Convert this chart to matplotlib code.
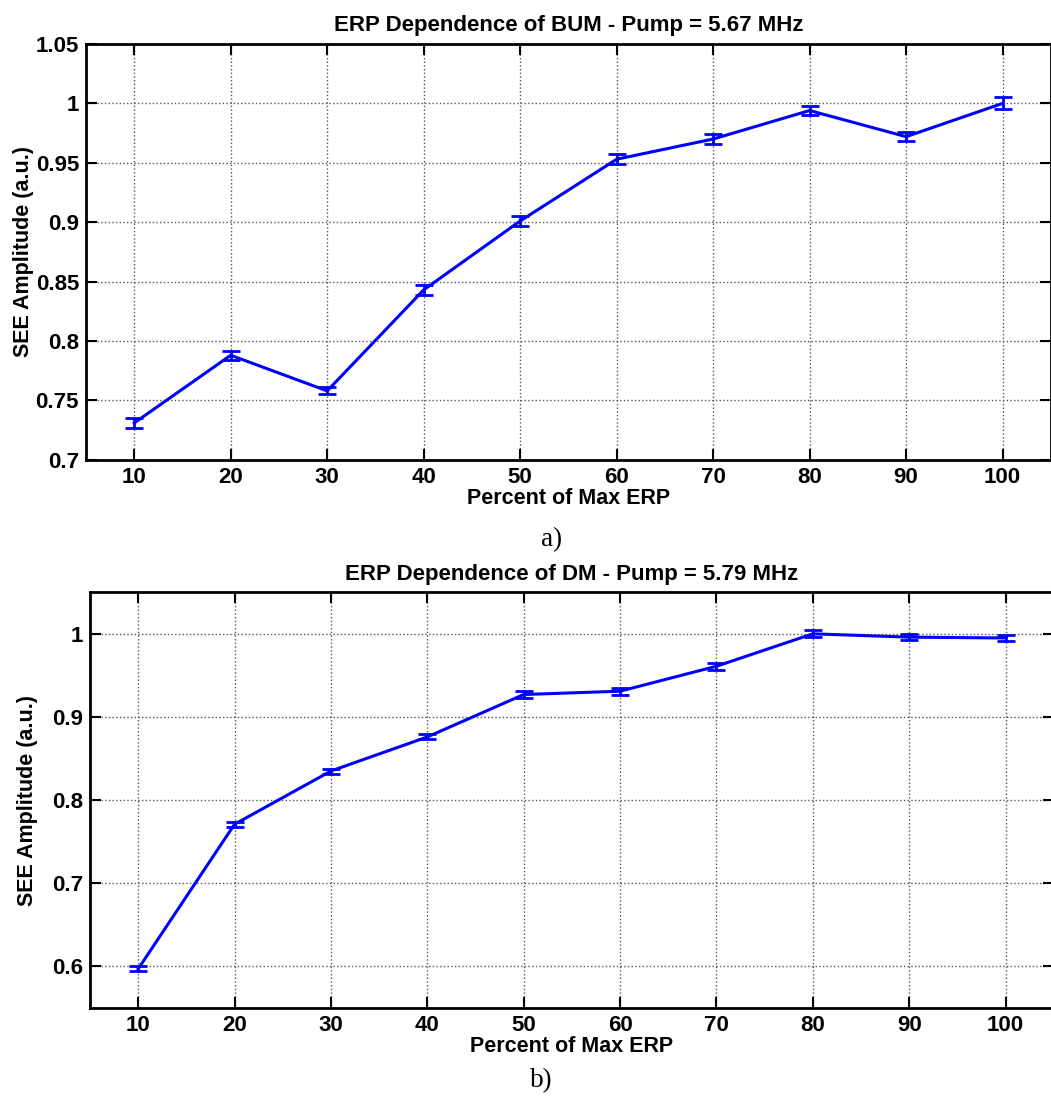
import numpy as np
import matplotlib
matplotlib.use('Agg')
import matplotlib.pyplot as plt

# * Data
erp = [10, 20, 30, 40, 50, 60, 70, 80, 90, 100]

bum_amp = [0.731, 0.788, 0.758, 0.843, 0.901, 0.953, 0.970, 0.994, 0.972, 1.000]
bum_err = [0.0045, 0.004, 0.003, 0.004, 0.004, 0.004, 0.004, 0.004, 0.004, 0.005]

dm_amp = [0.597, 0.771, 0.835, 0.876, 0.927, 0.931, 0.961, 1.000, 0.996, 0.995]
dm_err = [0.003, 0.003, 0.003, 0.003, 0.004, 0.004, 0.004, 0.004, 0.004, 0.004]

bum_yticks = [0.7, 0.75, 0.8, 0.85, 0.9, 0.95, 1.0, 1.05]
bum_ylabels = ['0.7', '0.75', '0.8', '0.85', '0.9', '0.95', '1', '1.05']
dm_yticks = [0.6, 0.7, 0.8, 0.9, 1.0]
dm_ylabels = ['0.6', '0.7', '0.8', '0.9', '1']

plt.rcParams['font.family'] = ['Liberation Sans', 'DejaVu Sans']
plt.rcParams['font.weight'] = 'bold'

fig = plt.figure(figsize=(10.51, 11), dpi=100)


def draw_panel(ax, y, yerr, title, ylim, yticks, ylabels):
    ax.errorbar(erp, y, yerr=yerr, color='#0000ff', lw=2.2, capsize=6.5,
                capthick=2, elinewidth=2)
    ax.set_xlim(5, 105)
    ax.set_ylim(*ylim)
    ax.set_xticks(erp)
    ax.set_xticklabels([str(v) for v in erp])
    ax.set_yticks(yticks)
    ax.set_yticklabels(ylabels)
    ax.grid(True, linestyle=':', color='#555555', lw=1.0)
    ax.tick_params(direction='in', length=8, width=1.5, top=True, right=True,
                   labelsize=16, pad=5)
    for sp in ax.spines.values():
        sp.set_linewidth(2)
    ax.set_title(title, fontsize=16, fontweight='bold', pad=9)
    ax.set_xlabel('Percent of Max ERP', fontsize=15.5, fontweight='bold', labelpad=0)
    ax.set_ylabel('SEE Amplitude (a.u.)', fontsize=15.5, fontweight='bold')
    ax.yaxis.set_label_coords(-0.054, 0.5)


ax1 = fig.add_axes([0.0818, 0.582, 0.918, 0.378])
draw_panel(ax1, bum_amp, bum_err, 'ERP Dependence of BUM - Pump = 5.67 MHz',
           (0.7, 1.05), bum_yticks, bum_ylabels)

ax2 = fig.add_axes([0.0856, 0.0836, 0.917, 0.378])
draw_panel(ax2, dm_amp, dm_err, 'ERP Dependence of DM - Pump = 5.79 MHz',
           (0.55, 1.05), dm_yticks, dm_ylabels)

fig.text(0.525, 0.509, 'a)', ha='center', va='center', fontsize=19.5,
         family='Liberation Serif', fontweight='normal')
fig.text(0.515, 0.018, 'b)', ha='center', va='center', fontsize=19.5,
         family='Liberation Serif', fontweight='normal')

fig.savefig('out.png', dpi=100)
